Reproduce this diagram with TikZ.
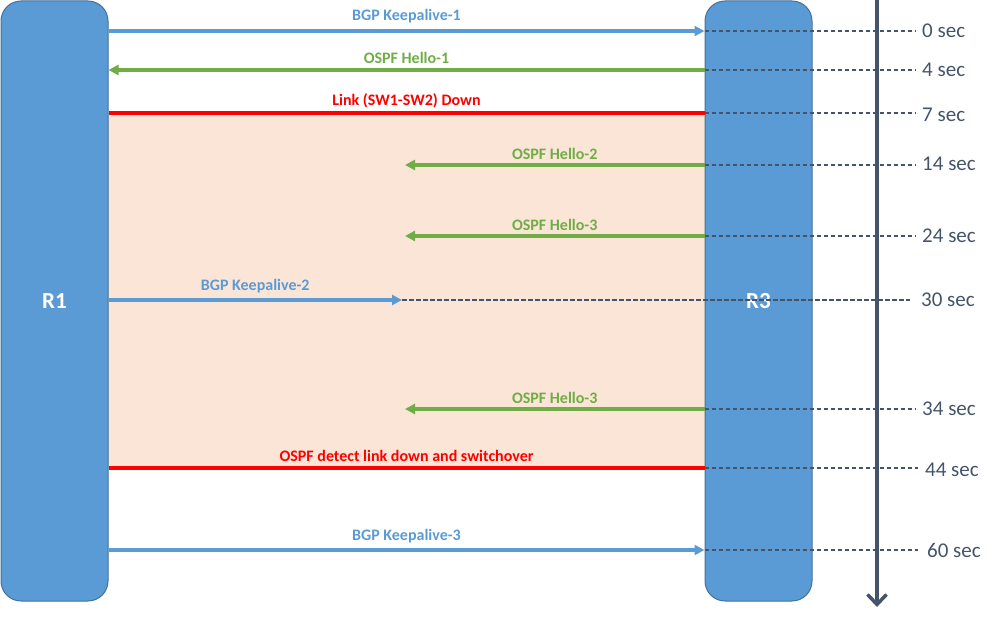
\documentclass[tikz,border=0pt]{standalone}
\usepackage{fontspec}
\setmainfont{Carlito}
\usetikzlibrary{arrows.meta}
\definecolor{boxblue}{HTML}{5B9BD5}
\definecolor{boxedge}{HTML}{41719C}
\definecolor{ospfgreen}{HTML}{70AD47}
\definecolor{linkred}{HTML}{FF0000}
\definecolor{peach}{HTML}{FBE5D6}
\definecolor{axisgray}{HTML}{44546A}
\tikzset{
  router/.style={draw=boxedge, line width=1pt, fill=boxblue, rounded corners=20pt,
    minimum width=107pt, minimum height=600pt, inner sep=0pt,
    text=white, font=\fontsize{23}{27}\selectfont\bfseries},
  timelabel/.style={anchor=west, inner sep=0pt, text=axisgray, font=\fontsize{21}{25}\selectfont},
  msglabel/.style={anchor=base, inner sep=0pt, font=\fontsize{16}{19}\selectfont\bfseries},
  bgp/.style={draw=boxblue, line width=3.2pt, -{Triangle[length=10pt,width=10pt]}},
  ospf/.style={draw=ospfgreen, line width=3.2pt, -{Triangle[length=10pt,width=10pt]}},
  linkline/.style={draw=linkred, line width=3.4pt},
  tick/.style={draw=axisgray, line width=1.5pt, dash pattern=on 4.5pt off 2.5pt},
  timeaxis/.style={draw=axisgray, line width=3.5pt, -{Straight Barb[length=10pt,width=19pt]}}
}
\begin{document}
\begin{tikzpicture}[x=1pt,y=-1pt]
\useasboundingbox (0,0) rectangle (999,626);
% shaded interval
\fill[peach] (108,113) rectangle (705,468);
% routers
\node[router] (R1) at (54.5,301) {R1};
\node[router] (R3) at (758.5,301) {R3};
% time labels
\node[timelabel] (t0)  at (922,31)  {0 sec};
\node[timelabel] (t4)  at (922,70)  {4 sec};
\node[timelabel] (t7)  at (922,115) {7 sec};
\node[timelabel] (t14) at (922,164) {14 sec};
\node[timelabel] (t24) at (922,236) {24 sec};
\node[timelabel] (t30) at (921,300) {30 sec};
\node[timelabel] (t34) at (922,409) {34 sec};
\node[timelabel] (t44) at (925,470) {44 sec};
\node[timelabel] (t60) at (927,550) {60 sec};
% mid points where lost messages stop
\coordinate (lossA) at (405,0);
\coordinate (lossB) at (402,0);
% messages
\draw[bgp] (R1.east |- 0,31) -- node[msglabel, midway, yshift=10pt, text=boxblue] {BGP Keepalive-1} (R3.west |- 0,31);
\draw[ospf] (R3.west |- 0,70) -- node[msglabel, midway, yshift=6pt, text=ospfgreen] {OSPF Hello-1} (R1.east |- 0,70);
\draw[linkline] (R1.east |- 0,113) -- node[msglabel, midway, yshift=7pt, text=linkred] {Link (SW1-SW2) Down} (R3.west |- 0,113);
\draw[ospf] (R3.west |- 0,165) -- node[msglabel, midway, yshift=6pt, text=ospfgreen] {OSPF Hello-2} (lossA |- 0,165);
\draw[ospf] (R3.west |- 0,236) -- node[msglabel, midway, yshift=6pt, text=ospfgreen] {OSPF Hello-3} (lossA |- 0,236);
\draw[bgp] (R1.east |- 0,300) -- node[msglabel, midway, yshift=10pt, text=boxblue] {BGP Keepalive-2} (lossB |- 0,300);
\draw[ospf] (R3.west |- 0,409) -- node[msglabel, midway, yshift=6pt, text=ospfgreen] {OSPF Hello-3} (lossA |- 0,409);
\draw[linkline] (R1.east |- 0,468) -- node[msglabel, midway, yshift=7pt, text=linkred] {OSPF detect link down and switchover} (R3.west |- 0,468);
\draw[bgp] (R1.east |- 0,550) -- node[msglabel, midway, yshift=10pt, text=boxblue] {BGP Keepalive-3} (R3.west |- 0,550);
% dashed time ticks
\draw[tick] (R3.west |- 0,31) -- ([xshift=-6pt]t0.west);
\draw[tick] (R3.west |- 0,70) -- ([xshift=-6pt]t4.west);
\draw[tick] (R3.west |- 0,113) -- ([xshift=-6pt]t7.west |- 0,113);
\draw[tick] (R3.west |- 0,165) -- ([xshift=-6pt]t14.west |- 0,165);
\draw[tick] (R3.west |- 0,236) -- ([xshift=-6pt]t24.west);
\draw[tick] (lossB |- 0,300) -- ([xshift=-11pt]t30.west);
\draw[tick] (R3.west |- 0,409) -- ([xshift=-6pt]t34.west);
\draw[tick] (R3.west |- 0,468) -- ([xshift=-7pt]t44.west |- 0,468);
\draw[tick] (R3.west |- 0,550) -- ([xshift=-9pt]t60.west);
% time axis
\coordinate (axtop) at (877,0);
\coordinate (axbot) at (877,607);
\draw[timeaxis] (axtop) -- (axbot);
\end{tikzpicture}
\end{document}
